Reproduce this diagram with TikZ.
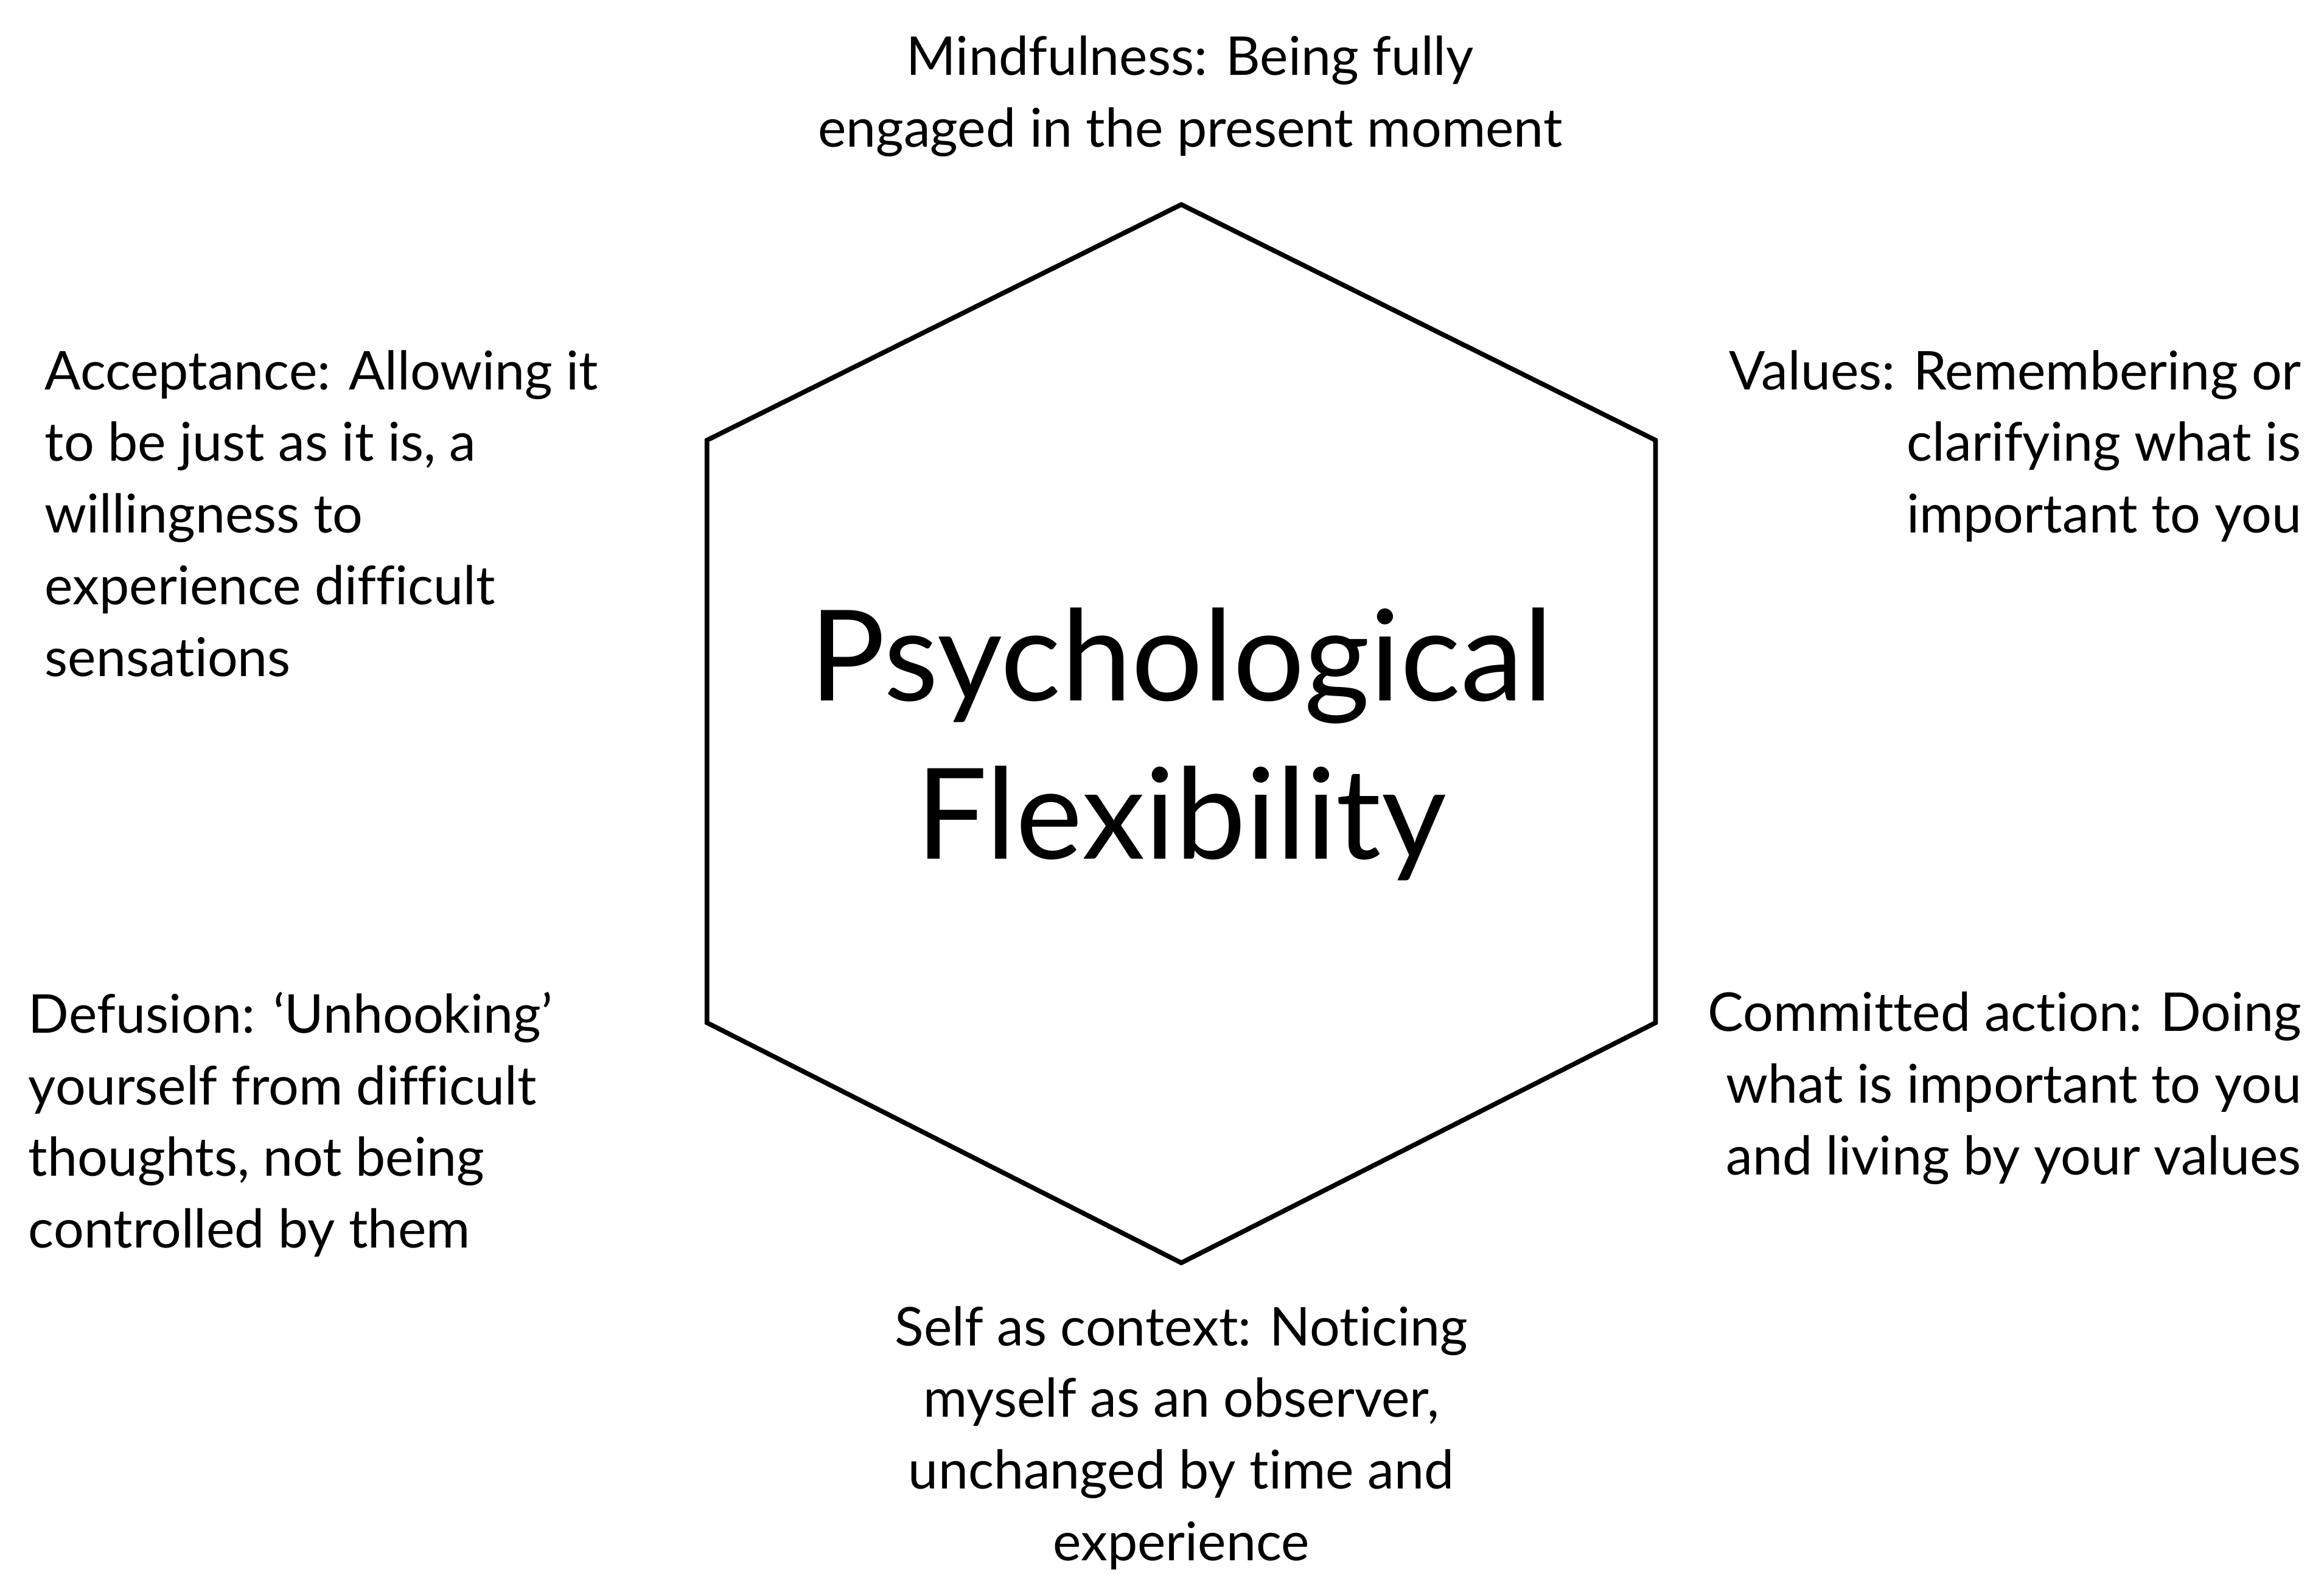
\documentclass[tikz,border=0pt]{standalone}
\usepackage{fontspec}
\setmainfont{Lato}[Ligatures={NoCommon,NoRare,NoContextual}]
\begin{document}
\begin{tikzpicture}[x=0.024356cm,y=-0.024356cm,
  lbl/.style={inner sep=0pt,font=\fontsize{25}{33.5}\selectfont}]
\useasboundingbox (0,0) rectangle (1568,1076);
\coordinate (t) at (797,138);
\coordinate (ur) at (1117,297);
\coordinate (lr) at (1117,690);
\coordinate (b) at (797,852);
\coordinate (ll) at (477,690);
\coordinate (ul) at (477,297);
\draw[line width=2.2pt,line join=miter] (t)--(ur)--(lr)--(b)--(ll)--(ul)--cycle;
\node[inner sep=0pt,align=center,font=\fontsize{59}{74}\selectfont] (c) at (797,502) {Psychological\\Flexibility};
\node[lbl,align=center,anchor=north] (m) at (803,24) {Mindfulness: Being fully\\engaged in the present moment};
\node[lbl,align=left,anchor=north west] (a) at (30,236) {Acceptance: Allowing it\\to be just as it is, a\\willingness to\\experience difficult\\sensations};
\node[lbl,align=right,anchor=north east] (v) at (1553,236) {Values: Remembering or\\clarifying what is\\important to you};
\node[lbl,align=left,anchor=north west] (d) at (19,669) {Defusion: `Unhooking'\\yourself from difficult\\thoughts, not being\\controlled by them};
\node[lbl,align=right,anchor=north east] (ca) at (1553,669) {Committed action: Doing\\what is important to you\\and living by your values};
\node[lbl,align=center,anchor=north] (s) at (797,881) {Self as context: Noticing\\myself as an observer,\\unchanged by time and\\experience};
\end{tikzpicture}
\end{document}
